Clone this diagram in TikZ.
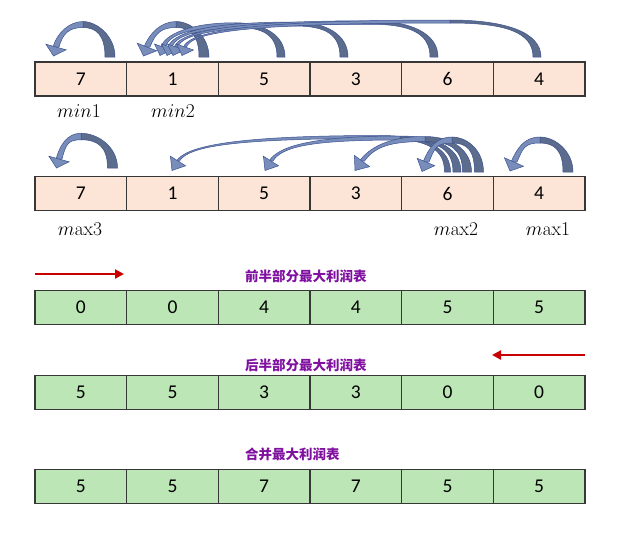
\RequirePackage{fix-cm}
\documentclass[tikz,border=0pt]{standalone}
\usepackage[no-math]{fontspec}
\setmainfont{Carlito}
\newfontfamily\cjk{Noto Sans CJK SC}
\usetikzlibrary{calc,arrows.meta}
\definecolor{peach}{RGB}{252,228,214}
\definecolor{mint}{RGB}{188,230,182}
\definecolor{cellline}{RGB}{55,55,55}
\definecolor{adark}{RGB}{92,108,140}
\definecolor{alight}{RGB}{120,141,186}
\definecolor{aout}{RGB}{60,82,145}
\definecolor{ttlc}{RGB}{128,16,160}
\definecolor{redarr}{RGB}{200,0,0}
\tikzset{
  cell/.style={draw=cellline, line width=1.1pt, minimum width=91.67pt, minimum height=34pt,
    inner sep=0pt, font=\fontsize{19.5}{20}\selectfont},
  peachcell/.style={cell, fill=peach},
  greencell/.style={cell, fill=mint},
  lbl/.style={inner sep=0pt, font=\fontsize{19.5}{21}\selectfont},
  ttl/.style={inner sep=0pt, anchor=west, text=ttlc, font=\cjk\bfseries\fontsize{13.5}{15}\selectfont},
  redarrow/.style={draw=redarr, line width=2.2pt, -{Triangle[length=9pt,width=9pt]}},
  darkpart/.style={fill=adark, draw=aout, line width=0.5pt},
  lightpart/.style={fill=alight, draw=aout, line width=0.5pt}
}
% curved block arrow: #1 tail x, #2 tail bottom y, #3 tail control y, #4 control x at apex,
% #5 apex x, #6 apex y, #7 control x after apex, #8 head base, #9 head tip
\newcommand\aset[4]{\def\tw{#1}\def\aw{#2}\def\wh{#3}\def\hh{#4pt}}
\newcommand\carr[9]{%
  \filldraw[darkpart] ({#1+\tw/2},#2) .. controls ({#1+\tw/2},#3) and (#4,{#6-\aw/2}) .. (#5,{#6-\aw/2})
     -- (#5,{#6+\aw/2}) .. controls (#4,{#6+\aw/2}) and ({#1-\tw/2},#3) .. ({#1-\tw/2},#2) -- cycle;
  \coordinate (cc) at ($#8!-1.5!#9$);
  \filldraw[lightpart] (#5,{#6-\aw/2}) .. controls (#7,{#6-\aw/2}) and ($(cc)+(-\wh/2,0)$) .. ($#8+(-\wh/2,0)$)
     -- ($#8+(\wh/2,0)$) .. controls ($(cc)+(\wh/2,0)$) and (#7,{#6+\aw/2}) .. (#5,{#6+\aw/2}) -- cycle;
  \filldraw[lightpart] ($#8!\hh!90:#9$) -- #9 -- ($#8!\hh!-90:#9$) -- cycle;
}
\begin{document}
\begin{tikzpicture}[x=1pt,y=-1pt]
\useasboundingbox (0,0) rectangle (632,539);
% rows of cells
\foreach \v [count=\i] in {7,1,5,3,6,4}
  \node[peachcell] (p\i) at ({35+91.667*(\i-0.5)},79) {\v};
\foreach \v [count=\i] in {7,1,5,3,6,4}
  \node[peachcell] (q\i) at ({35+91.667*(\i-0.5)},193.5) {\v};
\foreach \v [count=\i] in {0,0,4,4,5,5}
  \node[greencell] (f\i) at ({35+91.667*(\i-0.5)},307.5) {\v};
\foreach \v [count=\i] in {5,5,3,3,0,0}
  \node[greencell] (b\i) at ({35+91.667*(\i-0.5)},392.5) {\v};
\foreach \v [count=\i] in {5,5,7,7,5,5}
  \node[greencell] (m\i) at ({35+91.667*(\i-0.5)},486.5) {\v};
% labels
\node[lbl] (min1) at (79,111) {$min1$};
\node[lbl] (min2) at (173,111) {$min2$};
\node[lbl] (max3) at (80,229) {$m\mathrm{ax}3$};
\node[lbl] (max2) at (456,229) {$m\mathrm{ax}2$};
\node[lbl] (max1) at (548,229) {$m\mathrm{ax}1$};
% titles
\node[ttl] (t1) at (245,276) {前半部分最大利润表};
\node[ttl] (t2) at (245,365) {后半部分最大利润表};
\node[ttl] (t3) at (245,454) {合并最大利润表};
% red arrows
\coordinate (r1s) at (35,274);
\coordinate (r1e) at (124,274);
\draw[redarrow] (r1s) -- (r1e);
\coordinate (r2s) at (585,355);
\coordinate (r2e) at (492,355);
\draw[redarrow] (r2s) -- (r2e);
% row 1 curved arrows
\aset{10}{6}{6}{10.5}
\carr{110}{57}{36}{97}{83}{24.5}{69}{(56,47)}{(53.5,56)}
\carr{204}{57}{36}{191}{176}{24.5}{161}{(147,47)}{(143.5,56)}
\aset{8}{4.5}{4.5}{9}
\carr{281}{57}{34}{262}{235}{25}{190}{(163,47)}{(160,55.5)}
\aset{8}{4}{4}{9}
\carr{344}{57}{34}{325}{295}{24}{200}{(170,47)}{(167,55.5)}
\aset{8}{3.5}{3.5}{9}
\carr{434}{57}{33}{410}{370}{22.5}{215}{(176,47)}{(173,55.5)}
\aset{8}{3}{3}{9}
\carr{537}{57}{32}{505}{450}{21.5}{230}{(185,47)}{(182,55.5)}
% row 2 curved arrows
\aset{10}{6.5}{6}{10.5}
\carr{112.5}{168}{147}{98}{81}{136.5}{67}{(59,159)}{(56.5,168)}
\aset{10}{6}{6}{10.5}
\carr{568}{172}{151}{555}{540}{140}{524}{(514,162)}{(510,171)}
\aset{6}{3}{3}{9}
\carr{447.5}{172}{150}{430}{380}{137}{230}{(178,161)}{(172,170.5)}
\aset{8}{4}{4}{9}
\carr{457}{172}{150}{440}{400}{138}{310}{(271,161)}{(265,170.5)}
\aset{9}{5}{5}{9.5}
\carr{467}{172}{150}{452}{425}{139}{390}{(362,161)}{(355,170.5)}
\aset{9}{6}{6}{9.5}
\carr{479}{172}{150}{467}{452}{140}{436}{(426,162)}{(422,171.5)}
\end{tikzpicture}
\end{document}
